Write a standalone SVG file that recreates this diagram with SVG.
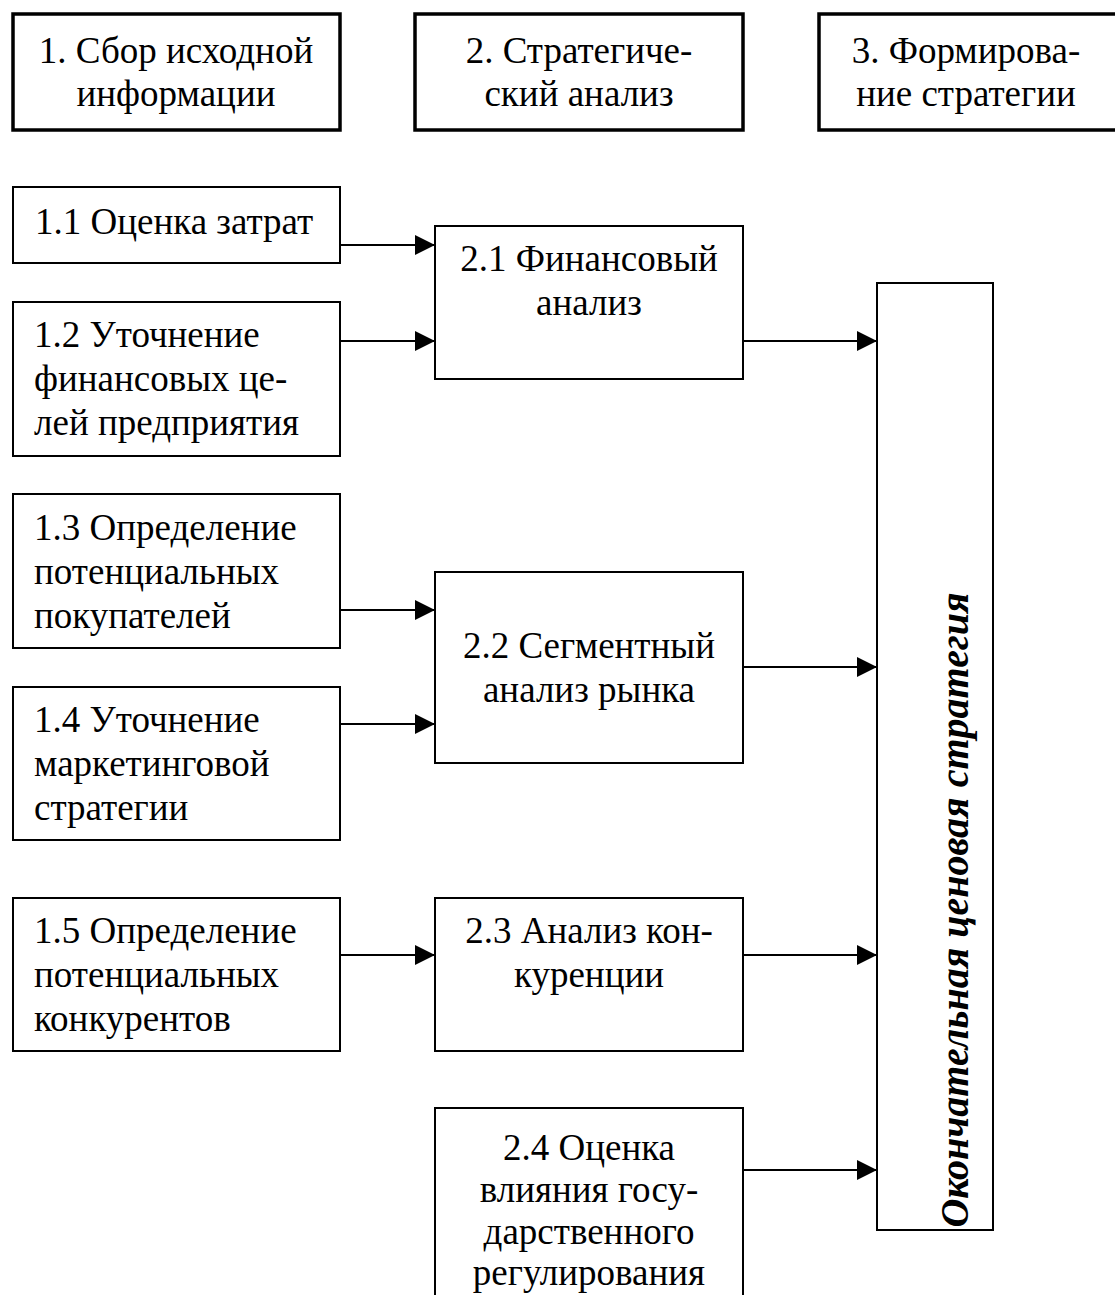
<svg xmlns="http://www.w3.org/2000/svg" width="1115" height="1295" viewBox="0 0 1115 1295">
<style>
  .t{font-family:"Liberation Serif","Times New Roman",serif;font-size:37px;fill:#000}
  .c{text-anchor:middle}
  .hdr{fill:#fff;stroke:#000;stroke-width:3.5}
  .box{fill:#fff;stroke:#000;stroke-width:2}
  .ln{stroke:#000;stroke-width:2;fill:none}
  .v{font-family:"Liberation Serif","Times New Roman",serif;font-size:40px;font-weight:bold;font-style:italic;fill:#000;text-anchor:middle}
</style>
<defs>
  <marker id="ah" markerUnits="userSpaceOnUse" markerWidth="20" markerHeight="20" refX="20" refY="10" orient="auto">
    <path d="M0,0 L20,10 L0,20 z" fill="#000"/>
  </marker>
</defs>
<rect width="1115" height="1295" fill="#fff"/>

<g id="h1"><rect class="hdr" x="13" y="14" width="327" height="116"/>
<text class="t c" x="176" y="63">1. Сбор исходной</text><text class="t c" x="176" y="106">информации</text></g>
<g id="h2"><rect class="hdr" x="415" y="14" width="328" height="116"/>
<text class="t c" x="579" y="63">2. Стратегиче-</text><text class="t c" x="579" y="106">ский анализ</text></g>
<g id="h3"><rect class="hdr" x="819" y="14" width="300" height="116"/>
<text class="t c" x="966" y="63">3. Формирова-</text><text class="t c" x="966" y="106">ние стратегии</text></g>

<g id="n11"><rect class="box" x="13" y="187" width="327" height="76"/>
<text class="t" x="35" y="234">1.1 Оценка затрат</text></g>
<g id="n12"><rect class="box" x="13" y="302" width="327" height="154"/>
<text class="t" x="34" y="347">1.2 Уточнение</text><text class="t" x="34" y="391">финансовых це-</text><text class="t" x="34" y="435">лей предприятия</text></g>
<g id="n13"><rect class="box" x="13" y="494" width="327" height="154"/>
<text class="t" x="34" y="540">1.3 Определение</text><text class="t" x="34" y="584">потенциальных</text><text class="t" x="34" y="628">покупателей</text></g>
<g id="n14"><rect class="box" x="13" y="687" width="327" height="153"/>
<text class="t" x="34" y="732">1.4 Уточнение</text><text class="t" x="34" y="776">маркетинговой</text><text class="t" x="34" y="820">стратегии</text></g>
<g id="n15"><rect class="box" x="13" y="898" width="327" height="153"/>
<text class="t" x="34" y="943">1.5 Определение</text><text class="t" x="34" y="987">потенциальных</text><text class="t" x="34" y="1031">конкурентов</text></g>

<g id="n21"><rect class="box" x="435" y="226" width="308" height="153"/>
<text class="t c" x="589" y="271">2.1 Финансовый</text><text class="t c" x="589" y="315">анализ</text></g>
<g id="n22"><rect class="box" x="435" y="572" width="308" height="191"/>
<text class="t c" x="589" y="658">2.2 Сегментный</text><text class="t c" x="589" y="702">анализ рынка</text></g>
<g id="n23"><rect class="box" x="435" y="898" width="308" height="153"/>
<text class="t c" x="589" y="943">2.3 Анализ кон-</text><text class="t c" x="589" y="987">куренции</text></g>
<g id="n24"><rect class="box" x="435" y="1108" width="308" height="200"/>
<text class="t c" x="589" y="1160">2.4 Оценка</text><text class="t c" x="589" y="1202">влияния госу-</text><text class="t c" x="589" y="1244">дарственного</text><text class="t c" x="589" y="1285">регулирования</text></g>

<g id="final"><rect class="box" x="877" y="283" width="116" height="947"/>
<text class="v" transform="translate(968,910) rotate(-90)">Окончательная ценовая стратегия</text></g>

<g id="connectors">
  <line class="ln" x1="340" y1="245" x2="435" y2="245" marker-end="url(#ah)"/>
  <line class="ln" x1="340" y1="341" x2="435" y2="341" marker-end="url(#ah)"/>
  <line class="ln" x1="743" y1="341" x2="877" y2="341" marker-end="url(#ah)"/>
  <line class="ln" x1="340" y1="610" x2="435" y2="610" marker-end="url(#ah)"/>
  <line class="ln" x1="340" y1="724" x2="435" y2="724" marker-end="url(#ah)"/>
  <line class="ln" x1="743" y1="667" x2="877" y2="667" marker-end="url(#ah)"/>
  <line class="ln" x1="340" y1="955" x2="435" y2="955" marker-end="url(#ah)"/>
  <line class="ln" x1="743" y1="955" x2="877" y2="955" marker-end="url(#ah)"/>
  <line class="ln" x1="743" y1="1170" x2="877" y2="1170" marker-end="url(#ah)"/>
</g>
</svg>
